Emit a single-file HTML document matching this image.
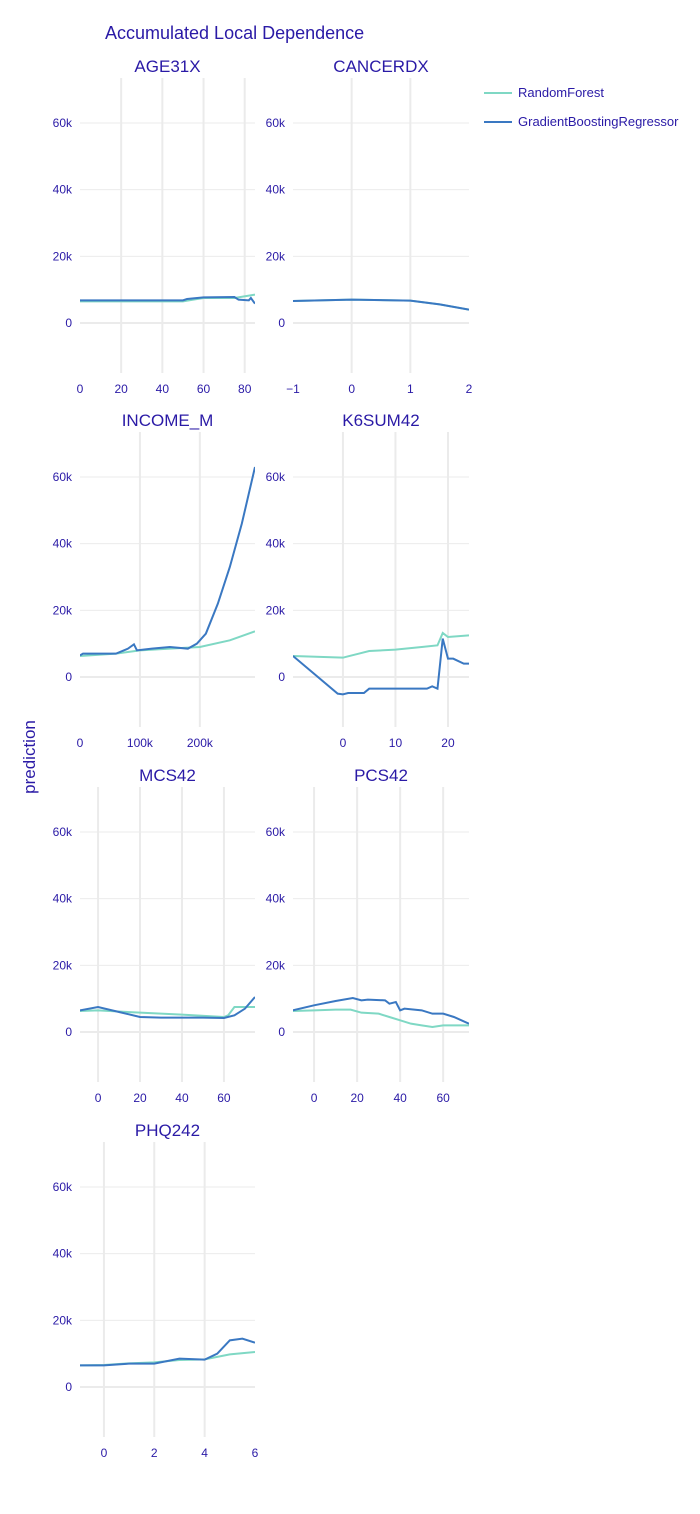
<!DOCTYPE html>
<html><head><meta charset="utf-8"><style>
body{margin:0;background:#fff;font-family:"Liberation Sans",sans-serif}
svg text{font-family:"Liberation Sans",sans-serif;fill:#2a1aa6}
</style></head><body>
<svg id="c" width="700" height="1509">
<text x="105" y="39" font-size="18">Accumulated Local Dependence</text>
<text transform="translate(35,757) rotate(-90)" text-anchor="middle" font-size="17">prediction</text>
<g>
<line x1="484" y1="93" x2="512" y2="93" stroke="#7fd8c4" stroke-width="2"/>
<text x="518" y="97" font-size="13">RandomForest</text>
<line x1="484" y1="122" x2="512" y2="122" stroke="#3a78c2" stroke-width="2"/>
<text x="518" y="126" font-size="13">GradientBoostingRegressor</text>
</g>
</svg>
<script>
const panelTitles=["AGE31X","CANCERDX","INCOME_M","K6SUM42","MCS42","PCS42","PHQ242"];
const xDomains=[[0,85],[-1,2],[0,292000],[-9.5,24],[-8.6,74.8],[-9.8,72],[-0.95,6]];
const xTicks=[[0,20,40,60,80],[-1,0,1,2],[0,100000,200000],[0,10,20],[0,20,40,60],[0,20,40,60],[0,2,4,6]];
const xTickLabels=[["0","20","40","60","80"],["−1","0","1","2"],["0","100k","200k"],["0","10","20"],["0","20","40","60"],["0","20","40","60"],["0","2","4","6"]];
const yTicks=[0,20000,40000,60000];
const yTickLabels=["0","20k","40k","60k"];
const rfX=[[0,50,55,60,75,85],[-1,0,1,1.5,2],[0,60000,100000,150000,200000,250000,292000],[-9.5,0,1,3,5,10,15,18,19,20,24],[-8.6,0,20,40,60,62,65,74.8],[-9.8,0,10,17,22,30,35,40,45,50,55,60,72],[-0.95,0,1,2,3,4,5,6]];
const rfY=[[6500,6500,7000,7500,7500,8500],[6600,7000,6700,5600,4000],[6300,7000,8000,8500,9000,11000,13700],[6300,5800,6200,7000,7800,8200,9000,9500,13200,12000,12500],[6300,6500,5800,5200,4500,5000,7500,7500],[6300,6500,6700,6700,5800,5500,4500,3500,2500,2000,1500,2000,2000],[6500,6600,7100,7400,8100,8300,9800,10500]];
const gbX=[[0,50,52,60,75,77,82,83,85],[-1,0,1,1.5,2],[0,5000,60000,80000,90000,95000,120000,150000,180000,195000,210000,230000,250000,270000,292000],[-9.5,-1,0,1,4,5,10,16,17,18,19,20,21,23,24],[-8.6,0,10,20,30,50,60,65,70,74.8],[-9.8,0,10,18,22,25,33,35,38,40,42,50,55,60,65,72],[-0.95,0,1,2,3,4,4.5,5,5.5,6]];
const gbY=[[6800,6800,7200,7700,7800,7000,6800,7500,5800],[6600,7000,6700,5600,4000],[6500,7000,7000,8500,9800,8000,8500,9000,8500,10000,13000,22000,33000,46000,63000],[6300,-5000,-5200,-4800,-4800,-3500,-3500,-3500,-2800,-3500,11500,5500,5500,4000,4000],[6500,7500,6000,4500,4300,4300,4200,5000,7000,10500],[6500,8000,9300,10200,9500,9700,9500,8500,9000,6500,7000,6500,5500,5500,4500,2500],[6500,6500,7000,7000,8500,8200,10000,14000,14500,13300]];
const NS="http://www.w3.org/2000/svg";
const svg=document.getElementById('c');
function mk(t,a,p){const e=document.createElementNS(NS,t);for(const k in a)e.setAttribute(k,a[k]);p.appendChild(e);return e;}
const cols=[[80,255],[293,469]];
const zeroY=[323,677,1032,1387];
for(let i=0;i<7;i++){
  const r=Math.floor(i/2),c=i%2;
  const x0=cols[c][0],x1=cols[c][1],z=zeroY[r];
  const top=z-245,bot=z+50;
  const d=xDomains[i];
  const sx=v=>x0+(v-d[0])/(d[1]-d[0])*(x1-x0);
  const sy=v=>z-v/20000*66.67;
  const g=mk('g',{},svg);
  
  
  const t=mk('text',{x:(x0+x1)/2,y:top-6,'text-anchor':'middle','font-size':17},g);
  t.textContent=panelTitles[i];
  
  
  yTicks.forEach((v,k)=>{
    mk('line',{x1:x0,x2:x1,y1:sy(v),y2:sy(v),stroke:'#ebebeb','stroke-width':k==0?2:1},g);
    const l=mk('text',{x:x0-8,y:sy(v)+4,'text-anchor':'end','font-size':12},g);
    l.textContent=yTickLabels[k];
    
    
  });
  xTicks[i].forEach((v,k)=>{
    const px=sx(v);
    if(px>x0+2&&px<x1-2) mk('line',{x1:px,x2:px,y1:top,y2:bot,stroke:'#ebebeb','stroke-width':2},g);
    const l=mk('text',{x:px,y:bot+20,'text-anchor':'middle','font-size':12},g);
    l.textContent=xTickLabels[i][k];
    
    
  });
  const clip=mk('clipPath',{id:'cp'+i},g);
  mk('rect',{x:x0,y:top,width:x1-x0,height:bot-top},clip);
  const rf=mk('polyline',{points:rfX[i].map((v,k)=>sx(v)+','+sy(rfY[i][k])).join(' '),fill:'none',stroke:'#7fd8c4','stroke-width':2,'clip-path':'url(#cp'+i+')'},g);
  
  
  const gb=mk('polyline',{points:gbX[i].map((v,k)=>sx(v)+','+sy(gbY[i][k])).join(' '),fill:'none',stroke:'#3a78c2','stroke-width':2,'clip-path':'url(#cp'+i+')'},g);
  
  
}
</script>
</body></html>
